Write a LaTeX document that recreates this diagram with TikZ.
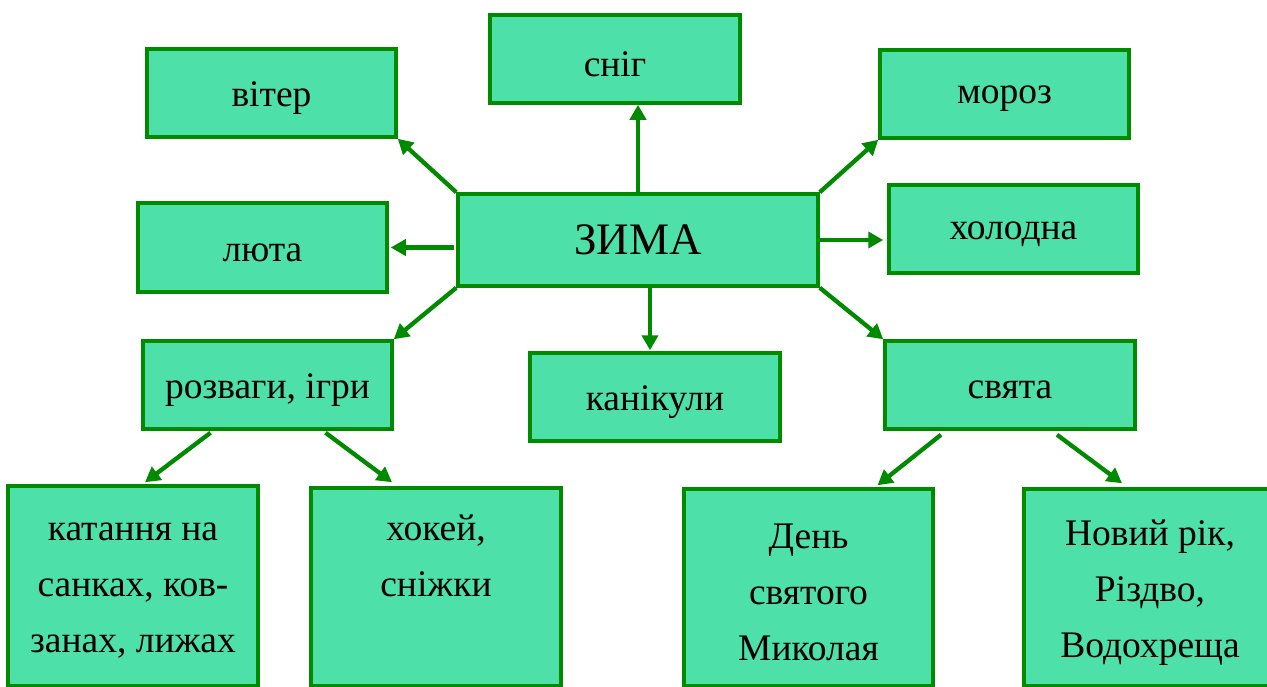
\documentclass[tikz,border=0pt]{standalone}
\usepackage{fontspec}
\setmainfont{Liberation Serif}
\usetikzlibrary{arrows.meta,calc}
\definecolor{boxfill}{HTML}{4DE0A8}
\definecolor{boxline}{HTML}{008A00}
\begin{document}
\begin{tikzpicture}[x=1pt,y=-1pt,
  box/.style={draw=boxline,fill=boxfill,line width=3.5pt,rectangle,inner sep=0pt},
  lab/.style={align=center,font=\fontsize{37.5}{56}\selectfont,yshift=-5pt,inner sep=0pt},
  conn/.style={draw=boxline,line width=4.3pt,-{Triangle[length=15pt,width=16pt]}}]
\useasboundingbox (0,0) rectangle (1267,686);
\clip (0,0) rectangle (1267,686);
\fill[white] (0,0) rectangle (1267,686);
\node[box,minimum width=249pt,minimum height=88pt,label={[lab]center:вітер}] (viter) at (271.5,93) {};
\node[box,minimum width=250pt,minimum height=88pt,label={[lab]center:сніг}] (snig) at (615,59) {};
\node[box,minimum width=249pt,minimum height=88pt,label={[lab]center:мороз}] (moroz) at (1004.5,94) {};
\node[box,minimum width=360pt,minimum height=92pt,label={[lab,yshift=5pt,font=\fontsize{45}{54}\selectfont]center:ЗИМА}] (zima) at (638,240) {};
\node[box,minimum width=249pt,minimum height=89pt,label={[lab]center:люта}] (lyuta) at (262.5,247.5) {};
\node[box,minimum width=249pt,minimum height=88pt,label={[lab]center:холодна}] (holodna) at (1013.5,229) {};
\node[box,minimum width=249pt,minimum height=88pt,label={[lab]center:{розваги, ігри}}] (rozvagy) at (267.5,385) {};
\node[box,minimum width=250pt,minimum height=88pt,label={[lab]center:канікули}] (kanikuly) at (655,397) {};
\node[box,minimum width=250pt,minimum height=88pt,label={[lab]center:свята}] (svyata) at (1010,385) {};
\node[box,minimum width=250pt,minimum height=200pt,label={[lab]center:{катання на\\санках, ков-\\занах, лижах}}] (katannya) at (133,586) {};
\node[box,minimum width=250pt,minimum height=198pt,label={[lab]center:{хокей,\\сніжки\\\strut}}] (hokey) at (436,587) {};
\node[box,minimum width=249pt,minimum height=197pt,label={[lab]center:{День\\святого\\Миколая}}] (den) at (808.5,587.5) {};
\node[box,minimum width=252pt,minimum height=197pt,label={[lab]center:{Новий рік,\\Різдво,\\Водохреща}}] (noviy) at (1150,587.5) {};

\draw[conn] (zima.north west) -- (viter.south east);
\draw[conn] (zima.north) -- (zima.north |- snig.south);
\draw[conn] (zima.north east) -- (moroz.south west);
\draw[conn] (zima.east) -- ($(zima.east -| holodna.west)+(-4,0)$);
\draw[conn] ($(zima.west |- lyuta.east)+(-2,0)$) -- ($(lyuta.east)+(2,0)$);
\draw[conn] (zima.south west) -- (rozvagy.north east);
\draw[conn] ($(zima.south)+(12,0)$) -- ($(kanikuly.north)+(-5,-1)$);
\draw[conn] (zima.south east) -- (svyata.north west);
\draw[conn] ($(rozvagy.south)+(-57,2)$) -- ($(katannya.north)+(12,-2)$);
\draw[conn] ($(rozvagy.south)+(58,2)$) -- ($(hokey.north)+(-44,-4)$);
\draw[conn] ($(svyata.south)+(-69,4)$) -- ($(den.north)+(69,-2)$);
\draw[conn] ($(svyata.south)+(47,4)$) -- ($(noviy.north)+(-28,-4)$);
\end{tikzpicture}
\end{document}
